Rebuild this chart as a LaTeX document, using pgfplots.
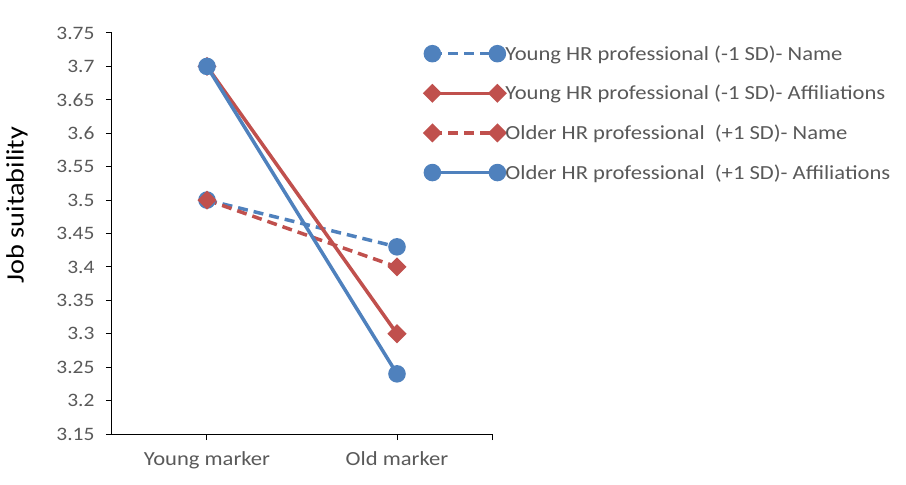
\documentclass[border=0pt]{standalone}
\usepackage{fontspec}
\setmainfont{Carlito}[FakeStretch=1.13]
\usepackage{pgfplots}
\pgfplotsset{compat=1.18}
\definecolor{xblue}{HTML}{4F81BD}
\definecolor{xred}{HTML}{C0504D}
\definecolor{xgray}{HTML}{595959}
\begin{document}
\begin{tikzpicture}
\useasboundingbox (-112bp,-51bp) rectangle (794bp,434bp);
\begin{axis}[
  scale only axis, width=380bp, height=401bp,
  at={(0,0)}, anchor=south west,
  xmin=-0.5, xmax=1.5, ymin=3.15, ymax=3.75,
  ytick={3.15,3.2,3.25,3.3,3.35,3.4,3.45,3.5,3.55,3.6,3.65,3.7,3.75},
  yticklabels={3.15,3.2,3.25,3.3,3.35,3.4,3.45,3.5,3.55,3.6,3.65,3.7,3.75},
  xtick={0,1}, xticklabels={Young marker, Old marker},
  extra x ticks={1.5}, extra x tick labels={},
  axis x line*=bottom, axis y line*=left,
  axis line style={-, black, line width=1bp},
  tick style={black, line width=1bp},
  tick align=outside, major tick length=6bp,
  yticklabel style={font=\fontsize{19bp}{22bp}\selectfont, color=xgray, xshift=-8bp},
  xticklabel style={font=\fontsize{20bp}{24bp}\selectfont, color=xgray, yshift=-8bp},
  /pgf/number format/assume math mode=true,
  ylabel={Job suitability},
  ylabel style={at={(axis description cs:-0.25,0.571)}, anchor=center, font=\fontsize{25bp}{30bp}\selectfont, color=black},
  clip=false,
  legend image code/.code={\draw[#1] plot coordinates {(0bp,0bp) (65bp,0bp)};},
  legend cell align=left,
  legend style={draw=none, fill=none, inner sep=0pt,
    at={(axis description cs:0.824,0.974)}, anchor=north west,
    font=\fontsize{20bp}{24bp}\selectfont, text=xgray,
    row sep=19.5bp,
    nodes={inner xsep=1bp, inner ysep=2bp}},
]
\addplot[xblue, line width=3.5bp, dash pattern=on 10bp off 6bp, mark=*, mark size=7bp, mark options={solid}] coordinates {(0,3.5) (1,3.43)};
\addlegendentry{Young HR professional (-1 SD)- Name}
\addplot[xred, line width=3.5bp, mark=square*, mark size=5bp, mark options={solid, rotate=45}] coordinates {(0,3.7) (1,3.3)};
\addlegendentry{Young HR professional (-1 SD)- Affiliations}
\addplot[xred, line width=3.5bp, dash pattern=on 10bp off 6bp, mark=square*, mark size=5bp, mark options={solid, rotate=45}] coordinates {(0,3.5) (1,3.4)};
\addlegendentry{Older HR professional\ \ (+1 SD)- Name}
\addplot[xblue, line width=3.5bp, mark=*, mark size=7bp, mark options={solid}] coordinates {(0,3.7) (1,3.24)};
\addlegendentry{Older HR professional\ \ (+1 SD)- Affiliations}
\end{axis}
\end{tikzpicture}
\end{document}
